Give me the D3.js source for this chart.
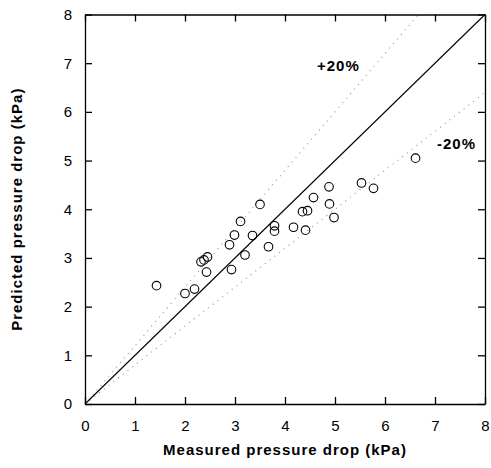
<!DOCTYPE html>
<html>
<head>
<meta charset="utf-8">
<script src="https://cdn.jsdelivr.net/npm/d3@7"></script>
<style>
  body { margin: 0; background: #fff; }
  .axis text { font-family: "Liberation Sans", Arial, sans-serif; font-size: 15px; fill: #000; }
  .axis path, .axis line { stroke: #000; stroke-width: 1.3; }
  .lbl { font-family: "Liberation Sans", Arial, sans-serif; font-size: 15px; font-weight: bold; letter-spacing: 1px; fill: #000; }
</style>
</head>
<body>
<script>
// measured / predicted pressure drop (kPa)
var measured  = [1.43, 2.00, 2.19, 2.32, 2.38, 2.45, 2.43, 2.89, 2.93, 2.99, 3.11, 3.20, 3.35, 3.50,
                 3.67, 3.79, 3.79, 4.17, 4.35, 4.45, 4.41, 4.57, 4.88, 4.89, 4.98, 5.53, 5.77, 6.61];
var predicted = [2.43, 2.27, 2.36, 2.92, 2.96, 3.02, 2.71, 3.27, 2.76, 3.47, 3.75, 3.06, 3.46, 4.10,
                 3.23, 3.66, 3.55, 3.63, 3.95, 3.97, 3.57, 4.24, 4.46, 4.11, 3.83, 4.54, 4.43, 5.05];
var ticks = [0, 1, 2, 3, 4, 5, 6, 7, 8];
var bandFactors = [1.2, 0.8];   // +20% / -20% lines

var W = 491, H = 468;
var margin = {top: 14.5, right: 6, bottom: 64, left: 85},
    width = W - margin.left - margin.right,
    height = H - margin.top - margin.bottom;

var x = d3.scaleLinear().domain([0, 8]).range([0, width]);
var y = d3.scaleLinear().domain([0, 8]).range([height, 0]);

var svg = d3.select("body").append("svg")
    .attr("width", W).attr("height", H)
  .append("g")
    .attr("transform", "translate(" + margin.left + "," + margin.top + ")");

// tolerance lines (dotted)
bandFactors.forEach(function(f) {
    var xEnd = Math.min(8, 8 / f);
    svg.append("line")
        .attr("x1", x(0)).attr("y1", y(0))
        .attr("x2", x(xEnd)).attr("y2", y(xEnd * f))
        .style("stroke", "#999")
        .style("stroke-width", 1.2)
        .style("stroke-dasharray", "1,5");
});

// 1:1 line
svg.append("line")
    .attr("x1", x(0)).attr("y1", y(0))
    .attr("x2", x(8)).attr("y2", y(8))
    .style("stroke", "#000")
    .style("stroke-width", 1.1);

// points
svg.selectAll("circle.pt")
    .data(measured)
  .enter().append("circle")
    .attr("class", "pt")
    .attr("cx", function(d) { return x(d); })
    .attr("cy", function(d, i) { return y(predicted[i]); })
    .attr("r", 4.3)
    .style("fill", "none")
    .style("stroke", "#000")
    .style("stroke-width", 1.1);

// axes, ticks pointing inwards on all sides
svg.append("g").attr("class", "axis")
    .attr("transform", "translate(0," + height + ")")
    .call(d3.axisBottom(x).tickValues(ticks).tickSizeInner(-7).tickSizeOuter(0).tickPadding(16));
svg.append("g").attr("class", "axis")
    .call(d3.axisLeft(y).tickValues(ticks).tickSizeInner(-7).tickSizeOuter(0).tickPadding(13));
svg.append("g").attr("class", "axis")
    .call(d3.axisTop(x).tickValues(ticks).tickSizeInner(-7).tickSizeOuter(0).tickFormat(""));
svg.append("g").attr("class", "axis")
    .attr("transform", "translate(" + width + ",0)")
    .call(d3.axisRight(y).tickValues(ticks).tickSizeInner(-7).tickSizeOuter(0).tickFormat(""));

// band labels
svg.append("text").attr("class", "lbl")
    .attr("x", x(4.64)).attr("y", y(6.84))
    .text("+20%");
svg.append("text").attr("class", "lbl")
    .attr("x", x(7.04)).attr("y", y(5.24))
    .text("-20%");

// axis titles
svg.append("text").attr("class", "lbl")
    .attr("text-anchor", "middle")
    .attr("x", width / 2).attr("y", height + 51)
    .text("Measured pressure drop (kPa)");
svg.append("text").attr("class", "lbl")
    .attr("text-anchor", "middle")
    .attr("transform", "translate(" + (22 - margin.left) + "," + (height / 2) + ") rotate(-90)")
    .text("Predicted pressure drop (kPa)");
</script>
</body>
</html>
